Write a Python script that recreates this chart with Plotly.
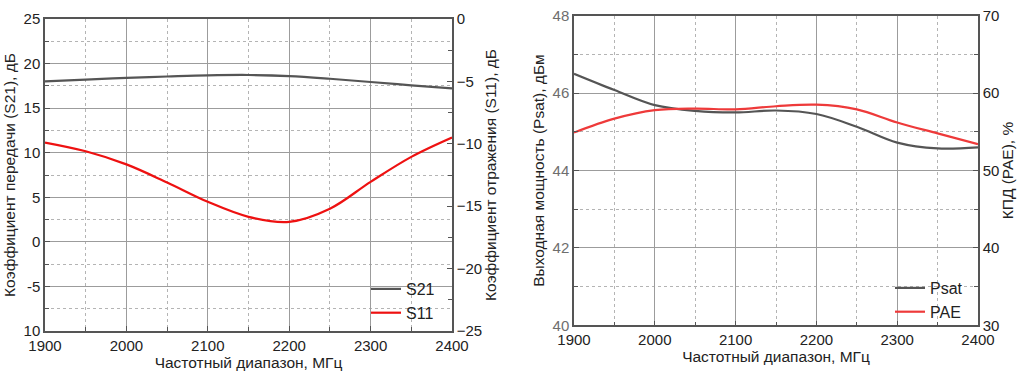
import plotly.graph_objects as go

freq = [1900, 1950, 2000, 2050, 2100, 2150, 2200, 2250, 2300, 2350, 2400]
s21 = [18.0, 18.2, 18.4, 18.55, 18.68, 18.72, 18.6, 18.3, 17.93, 17.56, 17.22]
s11 = [-9.9, -10.6, -11.65, -13.1, -14.65, -15.85, -16.25, -15.2, -13.05, -11.05, -9.5]
psat = [46.5, 46.08, 45.69, 45.54, 45.5, 45.55, 45.46, 45.13, 44.72, 44.57, 44.6]
pae = [54.9, 56.7, 57.8, 58.0, 57.9, 58.3, 58.5, 57.9, 56.2, 54.8, 53.4]

s21_tickvals = [-10, -5, 0, 5, 10, 15, 20, 25]
s21_ticktext = ["10", "-5", "0", "5", "10", "15", "20", "25"]

FONT = "Liberation Sans, Arial, sans-serif"
AX = "#555555"
GRID = "#9c9c9c"
MINOR = "#b4b4b4"
TXT = "#222222"
TS = 15      # tick label size
TT = 15.5    # axis title size

fig = go.Figure()
fig.add_trace(go.Scatter(x=freq, y=s21, name="S21", mode="lines", line=dict(color="#555555", width=2.2, shape="spline"),
                         xaxis="x", yaxis="y", legend="legend"))
fig.add_trace(go.Scatter(x=freq, y=s11, name="S11", mode="lines", line=dict(color="#ee1111", width=2.2, shape="spline"),
                         xaxis="x", yaxis="y2", legend="legend"))
fig.add_trace(go.Scatter(x=freq, y=psat, name="Psat", mode="lines", line=dict(color="#555555", width=2.2, shape="spline"),
                         xaxis="x2", yaxis="y3", legend="legend2"))
fig.add_trace(go.Scatter(x=freq, y=pae, name="PAE", mode="lines", line=dict(color="#ee3a3a", width=2.2, shape="spline"),
                         xaxis="x2", yaxis="y4", legend="legend2"))


def xax(domain, anchor):
    return dict(domain=domain, anchor=anchor, range=[1900, 2400], dtick=100, tick0=1900, automargin=False,
                showline=True, mirror=True, linecolor=AX, linewidth=1.5,
                showgrid=True, gridcolor=GRID, gridwidth=1, zeroline=False,
                ticks="inside", ticklen=5, tickcolor=AX,
                tickfont=dict(size=TS, color=TXT),
                minor=dict(dtick=50, tick0=1900, showgrid=True, griddash="dot", gridcolor=MINOR,
                           ticks="inside", ticklen=4, tickcolor=AX),
                title=dict(text="Частотный диапазон, МГц", font=dict(size=TT, color=TXT), standoff=2))


fig.update_layout(
    width=1024, height=374,
    margin=dict(l=0, r=0, t=0, b=0),
    paper_bgcolor="white", plot_bgcolor="white",
    font=dict(family=FONT, color=TXT),
    xaxis=xax([45 / 1024, 452 / 1024], "y"),
    xaxis2=xax([574 / 1024, 978 / 1024], "y3"),
    yaxis=dict(domain=[1 - 331 / 374, 1 - 19 / 374], anchor="x", range=[-10, 25], automargin=False,
               tickvals=s21_tickvals, ticktext=s21_ticktext,
               showline=True, linecolor=AX, linewidth=1.5, zeroline=False,
               showgrid=True, gridcolor=GRID, gridwidth=1,
               ticks="inside", ticklen=5, tickcolor=AX, tickfont=dict(size=TS, color=TXT),
               minor=dict(dtick=2.5, tick0=0, showgrid=True, griddash="dot", gridcolor=MINOR,
                          ticks="inside", ticklen=4, tickcolor=AX),
               title=dict(text="Коэффициент передачи (S21), дБ", font=dict(size=TT, color=TXT), standoff=4)),
    yaxis2=dict(overlaying="y", side="right", anchor="x", range=[-25, 0], dtick=5, tick0=0, automargin=False,
                showline=True, linecolor=AX, linewidth=1.5, zeroline=False, showgrid=False,
                ticks="inside", ticklen=5, tickcolor=AX, tickfont=dict(size=TS, color=TXT),
                minor=dict(dtick=2.5, tick0=0, showgrid=False, ticks="inside", ticklen=4, tickcolor=AX),
                title=dict(text="Коэффициент отражения (S11), дБ", font=dict(size=TT, color=TXT), standoff=4)),
    yaxis3=dict(domain=[1 - 325.3 / 374, 1 - 15.7 / 374], anchor="x2", range=[40, 48], dtick=2, tick0=40,
                automargin=False,
                showline=True, linecolor=AX, linewidth=1.5, zeroline=False,
                showgrid=True, gridcolor=GRID, gridwidth=1,
                ticks="inside", ticklen=5, tickcolor=AX, tickfont=dict(size=TS, color="#6e6e6e"),
                minor=dict(dtick=1, tick0=40, showgrid=True, griddash="dot", gridcolor=MINOR,
                           ticks="inside", ticklen=4, tickcolor=AX),
                title=dict(text="Выходная мощность (Psat), дБм", font=dict(size=TT, color=TXT), standoff=4)),
    yaxis4=dict(overlaying="y3", side="right", anchor="x2", range=[30, 70], dtick=10, tick0=30, automargin=False,
                showline=True, linecolor=AX, linewidth=1.5, zeroline=False, showgrid=False,
                ticks="inside", ticklen=5, tickcolor=AX, tickfont=dict(size=TS, color=TXT),
                minor=dict(dtick=5, tick0=30, showgrid=False, ticks="inside", ticklen=4, tickcolor=AX),
                title=dict(text="КПД (PAE), %", font=dict(size=TT, color=TXT), standoff=4)),
    legend=dict(x=440 / 1024, xanchor="right", y=1 - 272 / 374, yanchor="top",
                bgcolor="rgba(255,255,255,0)", borderwidth=0, font=dict(size=16, color=TXT),
                tracegroupgap=0, itemwidth=30),
    legend2=dict(x=968 / 1024, xanchor="right", y=1 - 271 / 374, yanchor="top",
                 bgcolor="rgba(255,255,255,0)", borderwidth=0, font=dict(size=16, color=TXT),
                 tracegroupgap=0, itemwidth=30),
)

fig.write_html("out.html", config={"displayModeBar": False},
               post_script="document.body.style.margin='0';document.body.style.overflow='hidden';")
